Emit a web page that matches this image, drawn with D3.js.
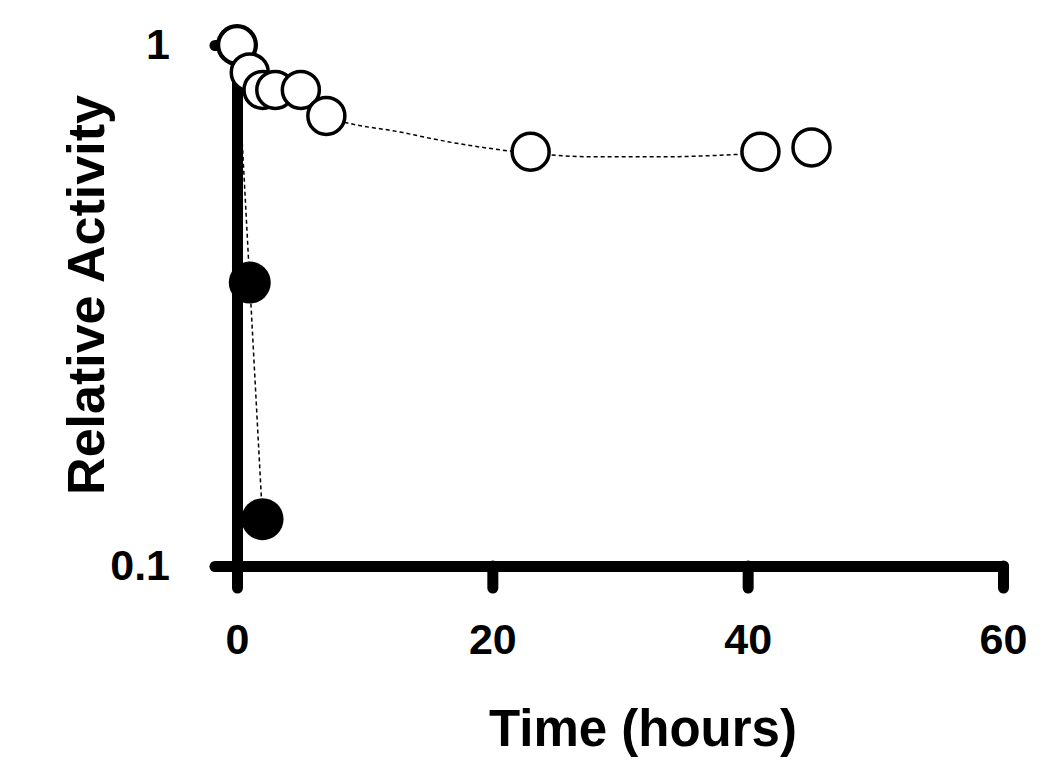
<!DOCTYPE html>
<html>
<head>
<meta charset="utf-8">
<script src="https://cdn.jsdelivr.net/npm/d3@7"></script>
<style>
  body { margin: 0; background: #fff; }
  svg { display: block; }
  text { font-family: 'Liberation Sans', Arial, sans-serif; font-weight: bold; fill: #000; }
</style>
</head>
<body>
<script>
// open circles
const openTime = [0, 1, 2, 3, 5, 7, 23, 41, 45]
const openActivity = [1.0, 0.886, 0.82, 0.82, 0.82, 0.731, 0.624, 0.624, 0.636]

// filled circles
const filledTime = [0, 1, 2]
const filledActivity = [1.0, 0.35, 0.123]

// dashed fitted curve for the open series
const openCurveTime = [0, 1, 2, 3, 5, 7, 13, 17, 23, 28, 33, 41]
const openCurveActivity = [1.0, 0.886, 0.82, 0.82, 0.82, 0.731, 0.679, 0.649, 0.62, 0.61, 0.61, 0.62]

// axis ticks
const xTicks = [0, 20, 40, 60]
const yTicks = [0.1, 1]

// size of svg
const w = 1050
const h = 780

const xScale = d3.scaleLinear()
    .domain([0, 60])
    .range([237, 1003])

const yScale = d3.scaleLog()
    .domain([0.1, 1])
    .range([566, 45])

const svg = d3.select('body')
    .append('svg')
    .attr('width', w)
    .attr('height', h)

const axisWidth = 11

// x axis
const xAxis = d3.axisBottom(xScale)
    .tickValues(xTicks)
    .tickFormat(d3.format('d'))
    .tickSize(22)
    .tickSizeOuter(0)
    .tickPadding(35)

svg.append('g')
    .attr('transform', `translate(0,${yScale(0.1)})`)
    .call(xAxis)

// y axis
const yAxis = d3.axisLeft(yScale)
    .tickValues(yTicks)
    .tickFormat(d => d === 1 ? '1' : '0.1')
    .tickSize(22)
    .tickSizeOuter(0)
    .tickPadding(45)

svg.append('g')
    .attr('transform', `translate(${xScale(0)},0)`)
    .call(yAxis)

// heavy rounded axis strokes
svg.selectAll('.domain, .tick line')
    .attr('stroke', '#000')
    .attr('stroke-width', axisWidth)
    .attr('stroke-linecap', 'round')

svg.selectAll('.tick text')
    .attr('fill', '#000')
    .style('font-size', '43px')
    .style('font-weight', 'bold')
    .style('font-family', "'Liberation Sans', Arial, sans-serif")

// dashed lines
const line = d3.line()
    .x(d => xScale(d[0]))
    .y(d => yScale(d[1]))
    .curve(d3.curveMonotoneX)

const openCurve = openCurveTime.map((t, i) => [t, openCurveActivity[i]])
const filledPts = filledTime.map((t, i) => [t, filledActivity[i]])
const openPts = openTime.map((t, i) => [t, openActivity[i]])

svg.append('path')
    .datum(filledPts)
    .attr('d', d3.line().x(d => xScale(d[0])).y(d => yScale(d[1])))
    .attr('fill', 'none')
    .attr('stroke', '#000')
    .attr('stroke-width', 1.5)
    .attr('stroke-dasharray', '4,3')

svg.append('path')
    .datum(openCurve)
    .attr('d', line)
    .attr('fill', 'none')
    .attr('stroke', '#000')
    .attr('stroke-width', 1.5)
    .attr('stroke-dasharray', '4,3')

// filled points
svg.selectAll('circle.filled')
    .data(filledPts)
    .enter()
    .append('circle')
    .attr('class', 'filled')
    .attr('cx', d => xScale(d[0]))
    .attr('cy', d => yScale(d[1]))
    .attr('r', 21)
    .attr('fill', '#000')

// open points
svg.selectAll('circle.open')
    .data(openPts)
    .enter()
    .append('circle')
    .attr('class', 'open')
    .attr('cx', d => xScale(d[0]))
    .attr('cy', d => yScale(d[1]))
    .attr('r', 18.5)
    .attr('fill', '#fff')
    .attr('stroke', '#000')
    .attr('stroke-width', 3.5)

// axis titles
svg.append('text')
    .attr('x', 643)
    .attr('y', 746)
    .attr('text-anchor', 'middle')
    .style('font-size', '51px')
    .text('Time (hours)')

svg.append('text')
    .attr('transform', 'translate(104,295) rotate(-90)')
    .attr('text-anchor', 'middle')
    .style('font-size', '52px')
    .text('Relative Activity')
</script>
</body>
</html>
